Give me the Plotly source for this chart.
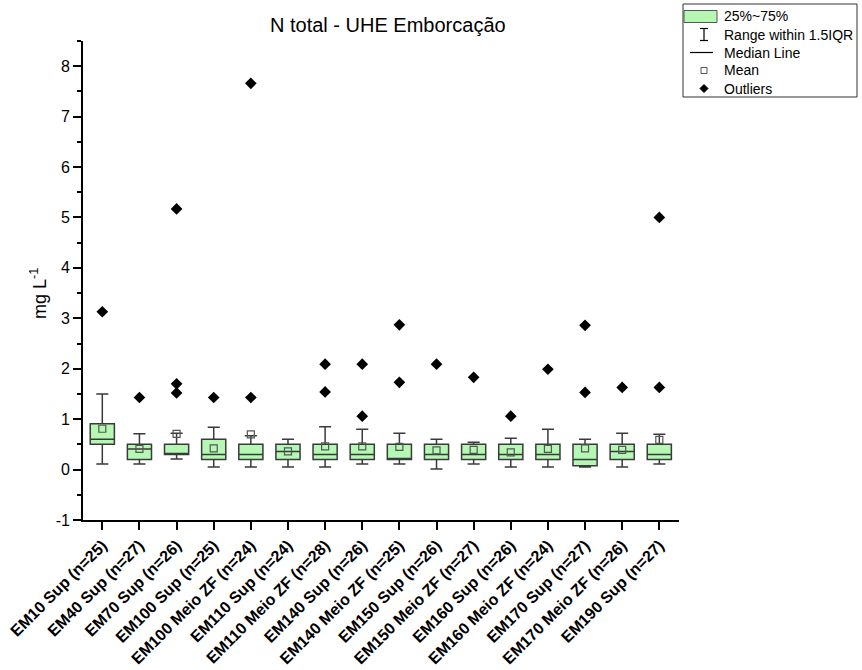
import plotly.graph_objects as go

# Sampling stations (x categories)
categories = [
    "EM10 Sup (n=25)", "EM40 Sup (n=27)", "EM70 Sup (n=26)", "EM100 Sup (n=25)",
    "EM100 Meio ZF (n=24)", "EM110 Sup (n=24)", "EM110 Meio ZF (n=28)", "EM140 Sup (n=26)",
    "EM140 Meio ZF (n=25)", "EM150 Sup (n=26)", "EM150 Meio ZF (n=27)", "EM160 Sup (n=26)",
    "EM160 Meio ZF (n=24)", "EM170 Sup (n=27)", "EM170 Meio ZF (n=26)", "EM190 Sup (n=27)",
]

# Box statistics, mg/L
q1 = [0.50, 0.20, 0.30, 0.20, 0.20, 0.20, 0.20, 0.20, 0.20, 0.20, 0.20, 0.20, 0.20, 0.075, 0.20, 0.20]
median = [0.60, 0.41, 0.30, 0.30, 0.30, 0.36, 0.30, 0.30, 0.20, 0.30, 0.30, 0.30, 0.30, 0.20, 0.36, 0.30]
q3 = [0.91, 0.50, 0.50, 0.60, 0.50, 0.50, 0.50, 0.50, 0.50, 0.50, 0.50, 0.50, 0.50, 0.50, 0.50, 0.50]
lower_whisker = [0.11, 0.11, 0.21, 0.05, 0.05, 0.05, 0.05, 0.11, 0.11, 0.01, 0.11, 0.05, 0.05, 0.05, 0.05, 0.11]
upper_whisker = [1.50, 0.71, 0.72, 0.84, 0.67, 0.60, 0.85, 0.80, 0.72, 0.60, 0.54, 0.62, 0.80, 0.60, 0.72, 0.70]
means = [0.81, 0.41, 0.71, 0.42, 0.70, 0.36, 0.46, 0.46, 0.45, 0.38, 0.39, 0.34, 0.41, 0.42, 0.39, 0.59]
outliers = [
    [3.13], [1.43], [1.52, 1.70, 5.17], [1.43], [1.43, 7.66], [], [1.54, 2.09], [1.06, 2.09],
    [1.73, 2.87], [2.09], [1.83], [1.06], [1.99], [1.53, 2.86], [1.63], [1.63, 5.00],
]

# y-axis ticks
y_ticks = [-1, 0, 1, 2, 3, 4, 5, 6, 7, 8]
y_tick_labels = ["-1", "0", "1", "2", "3", "4", "5", "6", "7", "8"]

BOX_FILL = "#b4f8b4"
BOX_LINE = "#3a3a3a"
FONT = "Arial, Liberation Sans, sans-serif"

W, H = 862, 670
L, R, T, B = 83, 183, 41, 150
PW, PH = W - L - R, H - T - B


def px(x):
    return (x - L) / PW


def py(y):
    return (H - B - y) / PH


fig = go.Figure()

fig.add_trace(go.Box(
    x=categories, q1=q1, median=median, q3=q3,
    lowerfence=lower_whisker, upperfence=upper_whisker,
    boxpoints=False, width=0.65, whiskerwidth=0.5,
    fillcolor=BOX_FILL, line=dict(color=BOX_LINE, width=1.5),
    showlegend=False, hoverinfo="skip",
))

fig.add_trace(go.Scatter(
    x=categories, y=means, mode="markers",
    marker=dict(symbol="square-open", size=7, color="#555555", line=dict(width=1.2)),
    showlegend=False, hoverinfo="skip",
))

ox, oy = [], []
for cat, vals in zip(categories, outliers):
    for v in vals:
        ox.append(cat)
        oy.append(v)
fig.add_trace(go.Scatter(
    x=ox, y=oy, mode="markers",
    marker=dict(symbol="diamond", size=9, color="black"),
    showlegend=False, hoverinfo="skip",
))

# Hand-drawn legend box
shapes = []
ann = []
shapes.append(dict(type="rect", xref="paper", yref="paper",
                   x0=px(683), x1=px(857), y0=py(4), y1=py(97),
                   line=dict(color="#333333", width=1), fillcolor="white", layer="below"))
rows = [16.5, 34.5, 52.5, 70.5, 88.5]
labels = ["25%~75%", "Range within 1.5IQR", "Median Line", "Mean", "Outliers"]
shapes.append(dict(type="rect", xref="paper", yref="paper",
                   x0=px(684), x1=px(717), y0=py(rows[0] - 6), y1=py(rows[0] + 6),
                   line=dict(color="#555555", width=1), fillcolor=BOX_FILL))
cx = 704
shapes.append(dict(type="line", xref="paper", yref="paper",
                   x0=px(cx), x1=px(cx), y0=py(rows[1] - 6), y1=py(rows[1] + 6),
                   line=dict(color="black", width=1.2)))
for dy in (-6, 6):
    shapes.append(dict(type="line", xref="paper", yref="paper",
                       x0=px(cx - 4), x1=px(cx + 4), y0=py(rows[1] + dy), y1=py(rows[1] + dy),
                       line=dict(color="black", width=1.2)))
shapes.append(dict(type="line", xref="paper", yref="paper",
                   x0=px(690), x1=px(713), y0=py(rows[2]), y1=py(rows[2]),
                   line=dict(color="black", width=1.2)))
shapes.append(dict(type="rect", xref="paper", yref="paper",
                   x0=px(cx - 3), x1=px(cx + 3), y0=py(rows[3] - 3), y1=py(rows[3] + 3),
                   line=dict(color="#555555", width=1), fillcolor="white"))
d = 4
path = "M {} {} L {} {} L {} {} L {} {} Z".format(
    px(cx), py(rows[4] - d), px(cx + d), py(rows[4]),
    px(cx), py(rows[4] + d), px(cx - d), py(rows[4]))
shapes.append(dict(type="path", xref="paper", yref="paper", path=path,
                   line=dict(color="black", width=1), fillcolor="black"))
for yy, lab in zip(rows, labels):
    ann.append(dict(x=px(722), y=py(yy), xref="paper", yref="paper", text=lab,
                    showarrow=False, xanchor="left", yanchor="middle",
                    font=dict(family=FONT, size=14, color="black")))

# Title and y-axis title
ann.append(dict(x=px(387.5), y=py(25), xref="paper", yref="paper",
                text="N total - UHE Emborcação", showarrow=False,
                xanchor="center", yanchor="middle",
                font=dict(family=FONT, size=20, color="black")))
ann.append(dict(x=px(38), y=py(294), xref="paper", yref="paper",
                text="mg L<sup>-1</sup>", showarrow=False, textangle=-90,
                xanchor="center", yanchor="middle",
                font=dict(family=FONT, size=18, color="black")))

fig.update_layout(
    width=W, height=H,
    margin=dict(l=L, r=R, t=T, b=B, autoexpand=False),
    paper_bgcolor="white", plot_bgcolor="white",
    shapes=shapes, annotations=ann,
    font=dict(family=FONT, color="black"),
)

fig.update_xaxes(
    type="category", range=[-0.52, 15.53], automargin=False,
    showline=True, linecolor="black", linewidth=1.6, mirror=False,
    ticks="outside", ticklen=8, tickwidth=1.5, tickcolor="black",
    tickangle=-45, tickfont=dict(family=FONT, size=16, color="black", weight="bold"),
    showgrid=False, zeroline=False,
)
fig.update_yaxes(
    range=[-1, 8.5], tickvals=y_ticks, ticktext=y_tick_labels, automargin=False,
    showline=True, linecolor="black", linewidth=1.6, mirror=False,
    ticks="outside", ticklen=8, tickwidth=1.5, tickcolor="black",
    tickfont=dict(family=FONT, size=16, color="black"),
    minor=dict(dtick=0.5, tick0=0, ticks="outside", ticklen=4, tickwidth=1.5, tickcolor="black"),
    showgrid=False, zeroline=False,
)

fig.write_html("out.html")
